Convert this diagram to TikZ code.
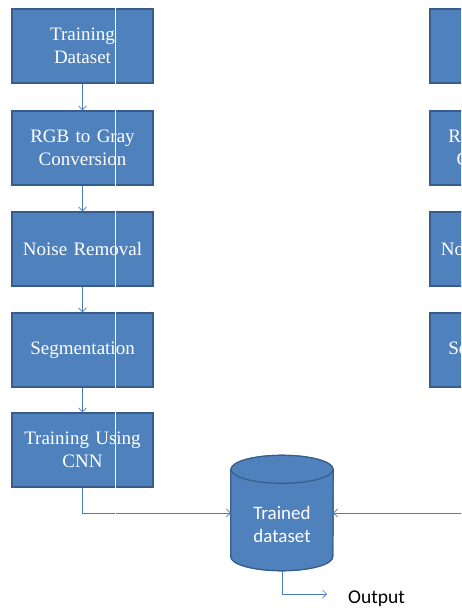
\documentclass[tikz,border=0pt]{standalone}
\usepackage{fontspec}
\setmainfont{Liberation Serif}
\newfontfamily\calfont{Carlito}
\usetikzlibrary{arrows.meta}
\definecolor{boxfill}{RGB}{79,129,189}
\definecolor{boxline}{RGB}{56,93,138}
\definecolor{conn}{RGB}{74,126,187}
\tikzset{
  procbox/.style={rectangle, fill=boxfill, draw=boxline, line width=1.4pt,
    minimum width=141pt, minimum height=74pt, text width=136pt, align=center,
    text=white, font=\fontsize{19}{22.5}\selectfont, inner sep=0pt},
  link/.style={draw=conn, line width=0.7pt, -{Straight Barb[length=4pt,width=8pt]}},
  cyl/.style={fill=boxfill, draw=boxline, line width=1.2pt}
}
\begin{document}
\begin{tikzpicture}[x=1pt,y=-1pt]
\useasboundingbox (0,0) rectangle (461,609);
\begin{scope}
\clip (0,0) rectangle (461,609);
% left column
\node[procbox] (b1) at (82.5,46) {Training\\Dataset};
\node[procbox] (b2) at (82.5,148) {RGB to Gray\\Conversion};
\node[procbox] (b3) at (82.5,249) {Noise Removal};
\node[procbox] (b4) at (82.5,350) {Segmentation};
\node[procbox] (b5) at (82.5,450) {Training Using\\CNN};
% right column (cut off at the picture's edge)
\node[procbox] (r1) at (500.5,46) {};
\node[procbox] (r2) at (500.5,148) {RGB to Gray\\Conversion};
\node[procbox] (r3) at (500.5,249) {Noise Removal};
\node[procbox] (r4) at (500.5,350) {Segmentation};
% cylinder
\node[minimum width=102pt, minimum height=87pt, inner sep=0pt] (db) at (282,513) {};
\fill[cyl] (db.north west) -- (db.south west)
  arc[start angle=180, end angle=360, x radius=51pt, y radius=14pt]
  -- (db.north east)
  arc[start angle=0, end angle=180, x radius=51pt, y radius=14pt] -- cycle;
\draw[cyl] (db.north west) -- (db.south west)
  arc[start angle=180, end angle=360, x radius=51pt, y radius=14pt]
  -- (db.north east);
\filldraw[cyl] (db.north) ellipse[x radius=51pt, y radius=14pt];
\node[text=white, align=center, font=\calfont\fontsize{19}{23}\selectfont] (dbt) at (282,524) {Trained\\dataset};
% connectors
\draw[link] (b1) -- (b2);
\draw[link] (b2) -- (b3);
\draw[link] (b3) -- (b4);
\draw[link] (b4) -- (b5);
\draw[link] (b5.south) |- (db.west);
\coordinate (rin) at (470,513);
\draw[link] (rin) -- (db.east);
\coordinate (outend) at (327,594);
\draw[link] (db.south) ++(0,14) coordinate (dbb) -- (dbb |- outend) -- (outend);
\node[anchor=west, font=\calfont\fontsize{19.5}{21}\selectfont, inner sep=0pt] (outlbl) at (348,599) {Output};
% white stitching line
\fill[white] (114.5,0) rectangle (116.3,520);
\end{scope}
\end{tikzpicture}
\end{document}
